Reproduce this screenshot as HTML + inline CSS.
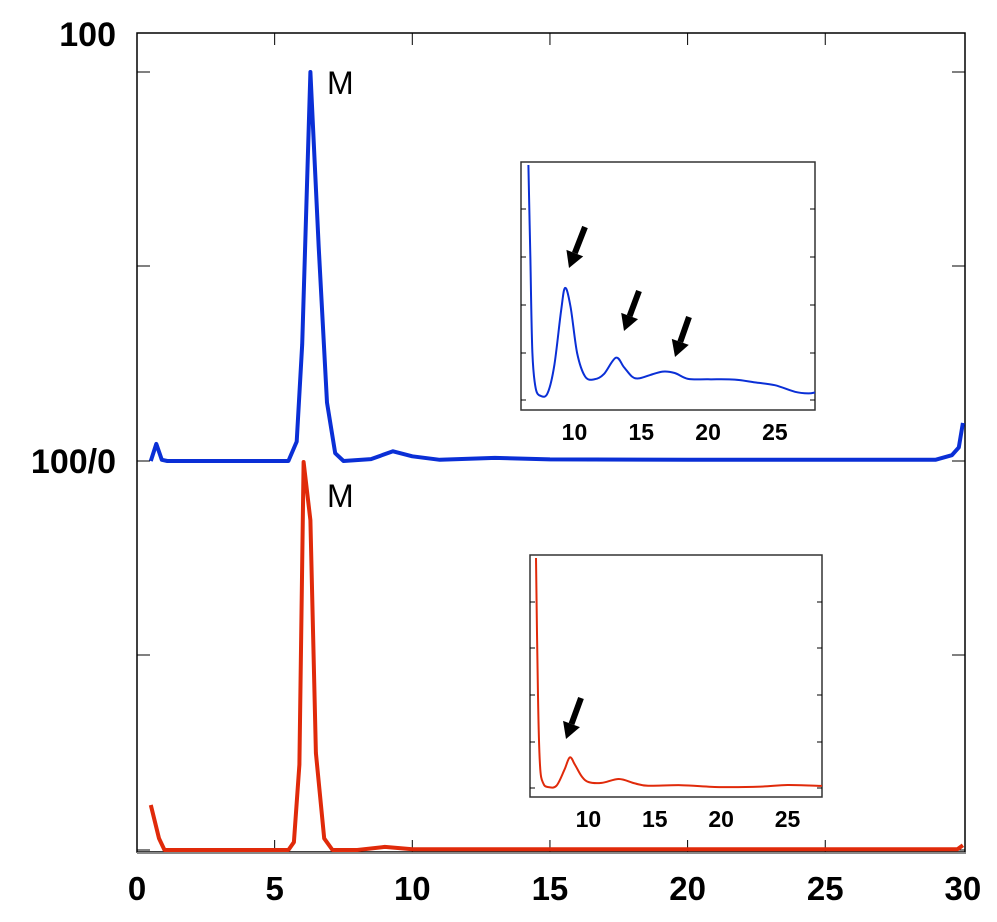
<!DOCTYPE html>
<html><head><meta charset="utf-8"><style>
body{margin:0;background:#fff}
svg{display:block;font-family:"Liberation Sans",sans-serif}
</style></head><body>
<svg id="c" width="997" height="922" viewBox="0 0 997 922"></svg>
<script>
// ---- data ----
const blueX=[0.5,0.7,0.9,1.1,3,5.5,5.8,6.0,6.3,6.6,6.9,7.2,7.5,8.5,9.3,10,11,13,15,20,25,29,29.6,29.85,30];
const blueY=[0,4.4,0.3,0,0,0,5,30,100,55,15,2,0,0.5,2.5,1.2,0.3,0.8,0.4,0.3,0.3,0.3,1.5,3.5,9.8];
const redX=[0.5,0.8,1.0,5.5,5.7,5.9,6.05,6.3,6.5,6.8,7.1,8,9,10,20,29.8,30];
const redY=[11.6,3,0,0,2,22,100,85,25,3,0,0,0.8,0.2,0.2,0.2,1.2];
const blueInsetX=[6.55,6.7,6.85,7.1,7.5,8.0,8.5,9.0,9.3,9.7,10.2,10.8,11.5,12.2,13.1,13.7,14.3,14.8,15.6,16.6,17.5,18.5,20,22,23.5,25,26.5,27.5,28];
const blueInsetY=[100,60,20,5,1.7,3,15,38,47.7,40,20,10,8.8,11,18,14,10,9.2,10.5,12.1,11.5,9,8.8,8.7,7.5,6.3,3.5,2.8,3.2];
const redInsetX=[6.05,6.2,6.35,6.6,7.0,7.6,8.2,8.6,9.0,9.5,10,11,12.3,13.5,14.5,17,20,23,25,27.6];
const redInsetY=[100,40,10,2,0.4,1,8,13.3,10,5,2.6,2.2,3.9,2,1,1.2,0.4,0.6,1.3,0.9];
const xTicks=[0,5,10,15,20,25,30];
const insetTicks=[10,15,20,25];
// ---- helpers ----
const svg=document.getElementById('c');const NS='http://www.w3.org/2000/svg';
function mk(t,a,p){const e=document.createElementNS(NS,t);for(const k in a)e.setAttribute(k,a[k]);(p||svg).appendChild(e);return e;}
const X=v=>137+v*27.53;
const yBlue=v=>461-v*3.89;
const yRed=v=>850-v*3.88;
function smoothD(pts){
  let d='M'+pts[0][0].toFixed(1)+','+pts[0][1].toFixed(1);
  for(let i=0;i<pts.length-1;i++){
    const p0=pts[i-1]||pts[i],p1=pts[i],p2=pts[i+1],p3=pts[i+2]||p2;
    const c1=[p1[0]+(p2[0]-p0[0])/6,p1[1]+(p2[1]-p0[1])/6];
    const c2=[p2[0]-(p3[0]-p1[0])/6,p2[1]-(p3[1]-p1[1])/6];
    d+='C'+c1[0].toFixed(1)+','+c1[1].toFixed(1)+' '+c2[0].toFixed(1)+','+c2[1].toFixed(1)+' '+p2[0].toFixed(1)+','+p2[1].toFixed(1);
  }
  return d;
}
// main frame
let fr=mk('rect',{x:137,y:33,width:828,height:819,fill:'none',stroke:'#000','stroke-width':1.5});

mk('line',{x1:137,y1:853,x2:966,y2:853,stroke:'#888','stroke-width':2});
xTicks.forEach(t=>{
  if(t>0&&t<30){mk('line',{x1:X(t),y1:852,x2:X(t),y2:840,stroke:'#000'});mk('line',{x1:X(t),y1:33,x2:X(t),y2:45,stroke:'#000'});}
  const tx=mk('text',{x:X(t),y:900,'text-anchor':'middle','font-size':33,'font-weight':'bold'});tx.textContent=t;
  
});
[72,266,461,655,850].forEach(y=>{mk('line',{x1:137,y1:y,x2:150,y2:y,stroke:'#000'});mk('line',{x1:965,y1:y,x2:952,y2:y,stroke:'#000'});});
let l1=mk('text',{x:116,y:46,'text-anchor':'end','font-size':34,'font-weight':'bold'});l1.textContent='100';

let l2=mk('text',{x:116,y:473,'text-anchor':'end','font-size':34,'font-weight':'bold'});l2.textContent='100/0';

function path(xs,ys,fx,fy,col,w,name,smooth){
  const pts=xs.map((x,i)=>[fx(x),fy(ys[i])]);
  const d=smooth?smoothD(pts):pts.map((p,i)=>(i?'L':'M')+p[0].toFixed(1)+','+p[1].toFixed(1)).join('');
  const p=mk('path',{d:d,fill:'none',stroke:col,'stroke-width':w,'stroke-linejoin':'round'});
  return p;}
path(blueX,blueY,X,yBlue,'#0a2fd6',4,'blue-trace',false);
path(redX,redY,X,yRed,'#e02a0a',4,'red-trace',false);
let m1=mk('text',{x:327,y:94,'font-size':32});m1.textContent='M';
let m2=mk('text',{x:327,y:507,'font-size':32});m2.textContent='M';
// insets
function inset(x0,y0,w,h,xmin,xmax,ticksY,xs,ys,col,name,arrows){
  const g=mk('g',{});
  mk('rect',{x:x0,y:y0,width:w,height:h,fill:'#fff',stroke:'#333','stroke-width':1.5},g);
  const fx=v=>x0+(v-xmin)/(xmax-xmin)*w;
  const base=ticksY[0],step=(ticksY[0]-ticksY[1])/20;
  const fy=v=>Math.max(y0,base-v*step);
  ticksY.forEach(y=>{mk('line',{x1:x0,y1:y,x2:x0+5,y2:y,stroke:'#000'},g);mk('line',{x1:x0+w,y1:y,x2:x0+w-5,y2:y,stroke:'#000'},g);});
  insetTicks.forEach(t=>{const tx=mk('text',{x:fx(t),y:y0+h+30,'text-anchor':'middle','font-size':23,'font-weight':'bold'},g);tx.textContent=t;});
  const pts=xs.map((x,i)=>[fx(x),fy(ys[i])]);
  const p=mk('path',{d:smoothD(pts),fill:'none',stroke:col,'stroke-width':2},g);
  
  arrows.forEach(a=>{
    const [sx,sy,ex,ey]=a;const ang=Math.atan2(ey-sy,ex-sx);
    const bx=ex-Math.cos(ang)*16,by=ey-Math.sin(ang)*16;
    mk('line',{x1:sx,y1:sy,x2:bx,y2:by,stroke:'#000','stroke-width':6},g);
    const px=-Math.sin(ang)*9,py=Math.cos(ang)*9;
    const ar=mk('polygon',{points:`${ex},${ey} ${bx+px},${by+py} ${bx-px},${by-py}`,fill:'#000'},g);
    
  });
}
inset(521,162,294,248,6.0,28.0,[400,353,305,257,209],blueInsetX,blueInsetY,'#0a2fd6','blue-inset',
  [[585,227,569,268],[639,291,624,331],[689,317,675,357]]);
inset(530,555,292,242,5.6,27.6,[788,742,695,648,602],redInsetX,redInsetY,'#e02a0a','red-inset',
  [[581,698,566,739]]);
</script>
</body></html>
